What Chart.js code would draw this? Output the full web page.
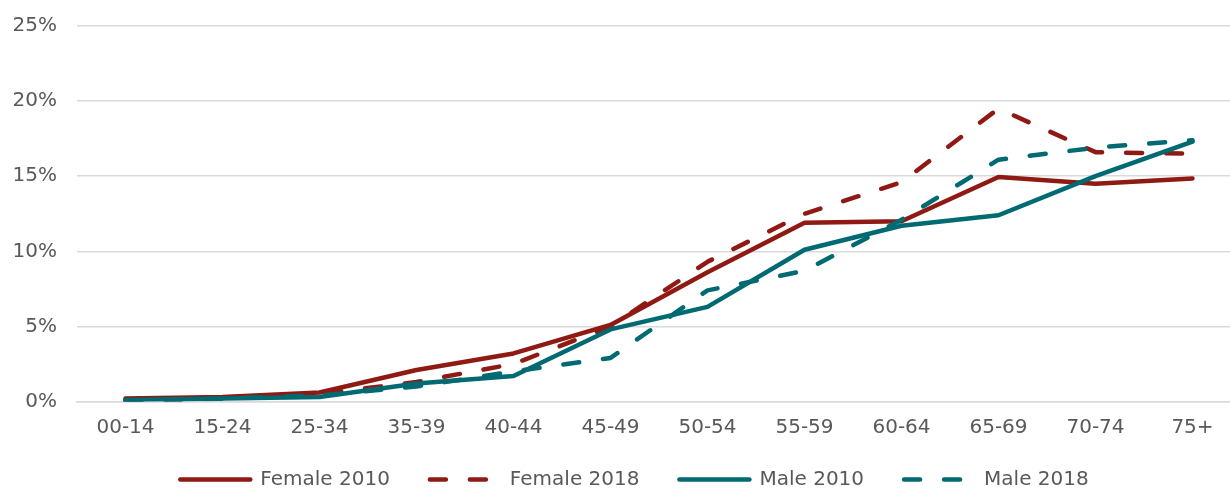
<!DOCTYPE html>
<html>
<head>
<meta charset="utf-8">
<title>Share by age group</title>
<script src="https://cdn.jsdelivr.net/npm/chart.js@4/dist/chart.umd.min.js"></script>
<style>
  html, body { margin: 0; padding: 0; background: #ffffff; }
  #frame { width: 1230px; height: 488px; overflow: hidden; }
  #plot { position: relative; width: 1241px; height: 488px; }
</style>
</head>
<body>
<div id="frame"><div id="plot"><canvas id="chart"></canvas></div></div>
<script>
// Age groups along the x axis
const ageGroups = ['00-14', '15-24', '25-34', '35-39', '40-44', '45-49', '50-54', '55-59', '60-64', '65-69', '70-74', '75+'];

// Percent per age group
const female2010 = [0.2, 0.3, 0.6, 2.1, 3.2, 5.1, 8.6, 11.9, 12.0, 14.95, 14.5, 14.85];
const female2018 = [0.1, 0.2, 0.5, 1.3, 2.5, 5.0, 9.3, 12.5, 14.6, 19.5, 16.6, 16.5];
const male2010   = [0.1, 0.2, 0.3, 1.2, 1.7, 4.8, 6.3, 10.1, 11.7, 12.4, 15.0, 17.3];
const male2018   = [0.0, 0.2, 0.4, 1.0, 2.0, 2.9, 7.4, 8.7, 12.1, 16.1, 16.9, 17.4];

// Series names
const seriesNames = ['Female 2010', 'Female 2018', 'Male 2010', 'Male 2018'];

// Y axis range and step (percent)
const yMin = 0, yMax = 25, yStep = 5;

const RED = '#8f1a13';
const TEAL = '#006a72';
const TEXT = '#595959';
const GRID = '#dadada';
const FONT = 'DejaVu Sans';
const DASH = [16, 24];
const LINE_W = 4.5;

// Legend: compact box height, items placed a little lower and centred on a shifted span
const legendPlacement = {
  id: 'legendPlacement',
  beforeUpdate(chart) {
    const lg = chart.legend;
    if (lg && !lg._compact) {
      const fit = lg.fit;
      lg.fit = function () { fit.call(this); this.height = 46.5; };
      lg._compact = true;
    }
  },
  afterLayout(chart) {
    const lg = chart.legend;
    if (!lg) return;
    lg.top = 429.5;
    lg.left = 28;
  }
};

function series(label, data, color, dash, order) {
  return {
    label, data,
    borderColor: color,
    backgroundColor: color,
    borderWidth: LINE_W,
    borderDash: dash,
    borderCapStyle: 'round',
    borderJoinStyle: 'round',
    pointRadius: 0,
    pointHoverRadius: 0,
    tension: 0,
    fill: false,
    order
  };
}

new Chart(document.getElementById('chart'), {
  type: 'line',
  data: {
    labels: ageGroups,
    datasets: [
      series(seriesNames[0], female2010, RED, [], 3),
      series(seriesNames[1], female2018, RED, DASH, 2),
      series(seriesNames[2], male2010, TEAL, [], 1),
      series(seriesNames[3], male2018, TEAL, DASH, 0)
    ]
  },
  plugins: [legendPlacement],
  options: {
    responsive: true,
    maintainAspectRatio: false,
    animation: false,
    layout: { padding: { top: 26, left: 0, right: 0, bottom: 0 } },
    plugins: {
      tooltip: { enabled: false },
      legend: {
        position: 'bottom',
        fullSize: true,
        labels: {
          usePointStyle: true,
          pointStyle: 'line',
          pointStyleWidth: 70,
          padding: 40,
          color: TEXT,
          font: { family: FONT, size: 20 },
          sort: (a, b) => a.datasetIndex - b.datasetIndex,
          generateLabels(chart) {
            const items = Chart.defaults.plugins.legend.labels.generateLabels(chart);
            return items.map(it => {
              const ds = chart.data.datasets[it.datasetIndex];
              return Object.assign(it, {
                strokeStyle: ds.borderColor,
                fillStyle: ds.borderColor,
                lineWidth: ds.borderWidth,
                lineDash: ds.borderDash,
                lineCap: 'round',
                pointStyle: 'line'
              });
            });
          }
        }
      }
    },
    scales: {
      x: {
        offset: true,
        grid: { display: false, drawTicks: false },
        border: { display: true, color: GRID, width: 1.5 },
        ticks: { color: TEXT, font: { family: FONT, size: 20 }, padding: 14, maxRotation: 0, autoSkip: false },
        afterFit(scale) { scale.height = 40; }
      },
      y: {
        min: yMin,
        max: yMax,
        grid: { color: GRID, lineWidth: 1.5, drawTicks: false },
        border: { display: false },
        ticks: {
          stepSize: yStep,
          padding: 20,
          color: TEXT,
          font: { family: FONT, size: 20 },
          callback: v => v + '%'
        },
        afterFit(scale) {
          scale.width = 77;
          scale.paddingTop = 0;
          scale.paddingBottom = 0;
        }
      }
    }
  }
});
</script>
</body>
</html>
